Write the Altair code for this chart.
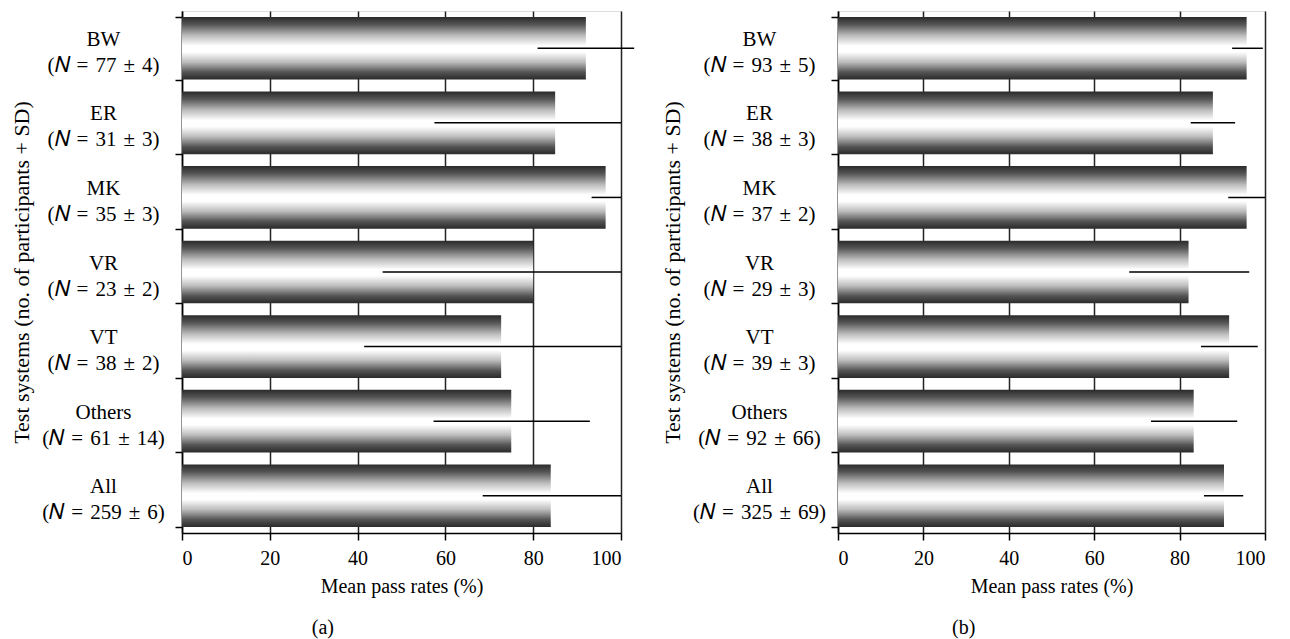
import altair as alt
import pandas as pd

# ---- data ----
systems = ["BW", "ER", "MK", "VR", "VT", "Others", "All"]

n_a = ["77 ± 4", "31 ± 3", "35 ± 3", "23 ± 2", "38 ± 2", "61 ± 14", "259 ± 6"]
mean_a = [92.0, 85.0, 96.5, 80.0, 72.7, 75.0, 84.0]
low_a = [81.0, 57.5, 93.3, 45.7, 41.5, 57.3, 68.5]
high_a = [103.0, 100.0, 100.0, 100.0, 100.0, 92.9, 100.0]

n_b = ["93 ± 5", "38 ± 3", "37 ± 2", "29 ± 3", "39 ± 3", "92 ± 66", "325 ± 69"]
mean_b = [95.7, 87.8, 95.7, 82.1, 91.6, 83.3, 90.4]
low_b = [92.3, 82.6, 91.4, 68.2, 85.0, 73.3, 85.7]
high_b = [99.5, 93.0, 100.0, 96.3, 98.3, 93.5, 94.9]

x_ticks = [0, 20, 40, 60, 80, 100]
FONT = "Liberation Serif"
SP = "\u2004"  # slightly wider space, like the math spacing of the original

gradient = alt.Gradient(
    gradient="linear",
    x1=0, y1=0, x2=0, y2=1,
    stops=[
        alt.GradientStop(offset=0.0, color="#2a2a2a"),
        alt.GradientStop(offset=0.12, color="#555555"),
        alt.GradientStop(offset=0.3, color="#bdbdbd"),
        alt.GradientStop(offset=0.46, color="#ffffff"),
        alt.GradientStop(offset=0.56, color="#ffffff"),
        alt.GradientStop(offset=0.72, color="#bdbdbd"),
        alt.GradientStop(offset=0.88, color="#555555"),
        alt.GradientStop(offset=1.0, color="#2a2a2a"),
    ],
)


def panel(ns, mean, low, high, caption, width, lab_pad):
    labels = [
        f"{s}|(\U0001D441{SP}={SP}{n.replace(' ', SP)})" for s, n in zip(systems, ns)
    ]
    df = pd.DataFrame({"label": labels, "mean": mean, "low": low, "high": high})
    yenc = alt.Y(
        "label:N",
        sort=labels,
        scale=alt.Scale(paddingInner=0.16, paddingOuter=0.08),
        axis=alt.Axis(
            title="Test systems (no. of participants + SD)",
            titleFont=FONT, titleFontSize=22, titleFontWeight="normal",
            titleColor="black", titlePadding=8,
            labelExpr="split(datum.label, '|')",
            labelAlign="center", labelBaseline="top",
            labelPadding=lab_pad, labelLineHeight=26,
            labelFont=FONT, labelFontSize=21, labelColor="black",
            labelOffset=-20,
            tickBand="extent", tickSize=7, tickColor="black", tickWidth=1.5,
            domainColor="black", domainWidth=1.5, grid=False,
        ),
    )
    xenc = alt.X(
        "mean:Q",
        scale=alt.Scale(domain=[0, 100], nice=False, zero=True),
        axis=alt.Axis(
            values=x_ticks, title="Mean pass rates (%)",
            titleFont=FONT, titleFontSize=20, titleFontWeight="normal",
            titleColor="black", titlePadding=8,
            labelFont=FONT, labelFontSize=20, labelColor="black", labelPadding=8,
            tickSize=7, tickColor="black", tickWidth=1.5,
            domainColor="black", domainWidth=1.5,
            grid=True, gridColor="#222222", gridWidth=1.5,
        ),
    )
    bars = alt.Chart(df).mark_bar(color=gradient).encode(x=xenc, y=yenc)
    rules = alt.Chart(df).mark_rule(color="black", strokeWidth=1.5).encode(
        x="low:Q", x2="high:Q", y=alt.Y("label:N", sort=labels)
    )
    return alt.layer(bars, rules).properties(
        width=width, height=522,
        title=alt.TitleParams(caption, orient="bottom", anchor="middle", frame="bounds",
                              font=FONT, fontSize=20, fontWeight="normal",
                              color="black", offset=22),
    )


left = panel(n_a, mean_a, low_a, high_a, "(a)", 439, 72)
right = panel(n_b, mean_b, low_b, high_b, "(b)", 427, 72)

chart = (
    alt.hconcat(left, right, spacing=25)
    .properties(padding={"left": 2, "top": 2, "right": 5, "bottom": 2})
    .configure_view(stroke="black", strokeWidth=1.5)
    .configure(background="white")
)

chart.save("out.html", embed_options={"renderer": "svg", "actions": False})
